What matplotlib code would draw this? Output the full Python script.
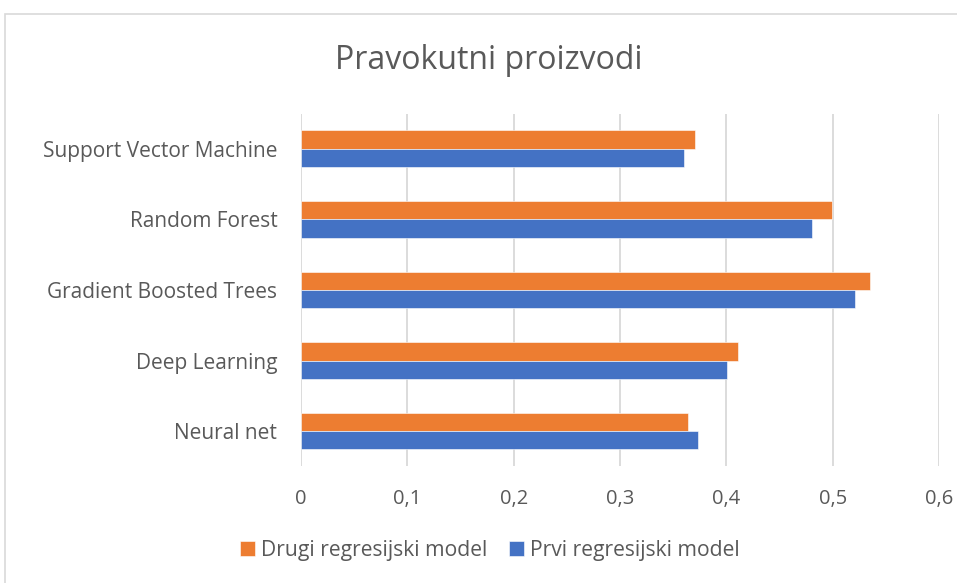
import numpy as np
import matplotlib.pyplot as plt
from matplotlib.patches import Rectangle

# Model scores, listed bottom to top
models = ['Neural net', 'Deep Learning', 'Gradient Boosted Trees',
          'Random Forest', 'Support Vector Machine']
prvi = [0.373, 0.401, 0.521, 0.481, 0.360]
drugi = [0.364, 0.411, 0.535, 0.499, 0.371]
xticks = [0, 0.1, 0.2, 0.3, 0.4, 0.5, 0.6]
xtick_labels = ['0', '0,1', '0,2', '0,3', '0,4', '0,5', '0,6']

plt.rcParams['font.family'] = ['Open Sans', 'DejaVu Sans']
text_color = '#595959'
orange = '#ED7D31'
blue = '#4472C4'

fig = plt.figure(figsize=(9.57, 5.83), dpi=100)
ax = fig.add_axes([0.3145, 0.2002, 0.6667, 0.6048])

# chart border
fig.patches.append(Rectangle((5 / 957, -0.05), 1.1, 1 - 14 / 583 + 0.05,
                             transform=fig.transFigure, fill=False,
                             edgecolor='#d9d9d9', linewidth=1.2))

y = np.arange(len(models))
h = 0.262
ax.barh(y + h / 2, drugi, height=h, color=orange, label='Drugi regresijski model',
        edgecolor='white', linewidth=0.4, zorder=3)
ax.barh(y - h / 2, prvi, height=h, color=blue, label='Prvi regresijski model',
        edgecolor='white', linewidth=0.4, zorder=3)

ax.set_xlim(0, 0.6)
ax.set_ylim(-0.5, len(models) - 0.5)
ax.set_xticks(xticks)
ax.set_xticklabels(xtick_labels)
ax.set_yticks(y)
ax.set_yticklabels(models)
ax.tick_params(axis='x', length=0, pad=16, labelsize=14.5, labelcolor=text_color)
ax.tick_params(axis='y', length=0, pad=17, labelsize=15, labelcolor=text_color)
ax.grid(axis='x', color='#d9d9d9', linewidth=1.3, zorder=0)
for s in ax.spines.values():
    s.set_visible(False)

fig.text(0.511, 0.897, 'Pravokutni proizvodi', ha='center', va='center',
         fontsize=23, color=text_color)

handles, labels = ax.get_legend_handles_labels()
fig.legend(handles, labels, loc='center', bbox_to_anchor=(0.512, 0.056), ncol=2,
           frameon=False, fontsize=15.2, labelcolor=text_color,
           handlelength=0.7, handleheight=0.7, handletextpad=0.3,
           columnspacing=1.0)

fig.savefig('out.png', dpi=100)
